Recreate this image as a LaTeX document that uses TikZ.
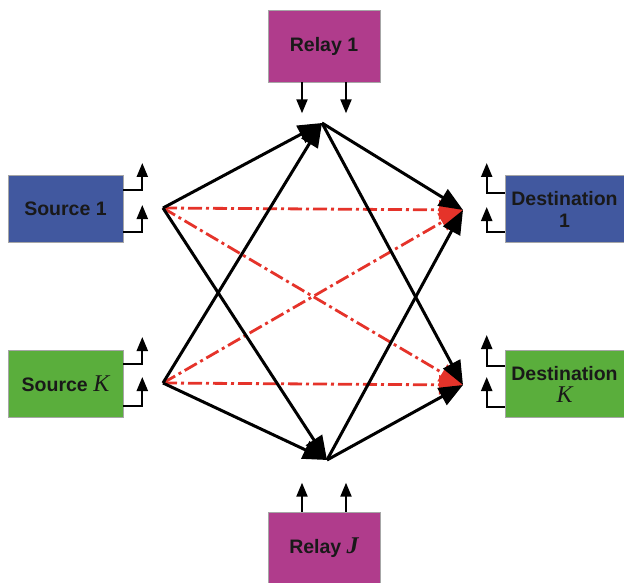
\documentclass[tikz,border=0pt]{standalone}
\usepackage{fontspec}
\setmainfont{Liberation Sans}
\newfontfamily\timesfont{Liberation Serif}
\usepackage{xcolor}
\usepackage{tikz}
\usetikzlibrary{arrows.meta, calc}
\definecolor{srcblue}{HTML}{41589F}
\definecolor{nodegreen}{HTML}{5AAE3C}
\definecolor{relaypink}{HTML}{B03C8C}
\definecolor{crossred}{HTML}{E5332A}
\newcommand{\kvar}{{\timesfont\itshape\mdseries\fontsize{24}{24}\selectfont K}}
\newcommand{\jvar}{{\timesfont\itshape\bfseries\fontsize{24}{24}\selectfont J}}

\begin{document}
\begin{tikzpicture}[
    x=1pt, y=-1pt,
    box/.style={draw=gray!70, line width=0.6pt, align=center,
                font=\bfseries\fontsize{19.5}{22}\selectfont, text=black!90},
    relaybox/.style={box, fill=relaypink, minimum width=112pt, minimum height=72pt},
    endbox/.style={box, minimum width=115pt, minimum height=67pt},
    link/.style={line width=3pt, -{Triangle[length=24pt,width=19pt]}},
    cross/.style={line width=2.8pt, crossred,
                  dash pattern=on 14pt off 4pt on 3pt off 4pt,
                  -{Triangle[length=24pt,width=19pt]}},
    tap/.style={line width=2.2pt, -{Triangle[length=14pt,width=11pt]}}
  ]
    \useasboundingbox (0,0) rectangle (624,583);

    % boxes
    \node[relaybox] (rel1) at (324,46) {Relay 1};
    \node[relaybox] (relJ) at (324,548) {Relay \jvar};
    \node[endbox, fill=srcblue] (src1) at (65.5,208.5) {Source 1};
    \node[endbox, fill=nodegreen] (srcK) at (65.5,384) {Source \kvar};
    \node[endbox, fill=srcblue, minimum width=119pt, inner xsep=2pt] (dst1)
      at (564.5,209) {Destination\\1};
    \node[endbox, fill=nodegreen, minimum width=119pt, inner xsep=2pt] (dstK)
      at (564.5,384) {Destination\\\kvar};

    % hub points
    \coordinate (s1) at (163,208);
    \coordinate (sK) at (163,383);
    \coordinate (d1) at (463,210);
    \coordinate (dK) at (463,385);
    \coordinate (r1) at (322,123);
    \coordinate (rJ) at (327,460);

    % cross links
    \draw[cross] (s1) -- (d1);
    \draw[cross] (s1) -- (dK);
    \draw[cross] (sK) -- (d1);
    \draw[cross] (sK) -- (dK);

    % relay links
    \draw[link] (s1) -- (r1);
    \draw[link] (s1) -- (rJ);
    \draw[link] (sK) -- (r1);
    \draw[link] (sK) -- (rJ);
    \draw[link] (r1) -- (d1);
    \draw[link] (r1) -- (dK);
    \draw[link] (rJ) -- (d1);
    \draw[link] (rJ) -- (dK);

    % small taps
    \draw[tap] ($(src1.east)+(0,-18.5)$) -- ++(19,0) -- ++(0,-27);
    \draw[tap] ($(src1.east)+(0,23.5)$) -- ++(19,0) -- ++(0,-27);
    \draw[tap] ($(srcK.east)+(0,-20)$) -- ++(19,0) -- ++(0,-27);
    \draw[tap] ($(srcK.east)+(0,22)$) -- ++(19,0) -- ++(0,-29);
    \draw[tap] ($(dst1.west)+(0,-16)$) -- ++(-18,0) -- ++(0,-30);
    \draw[tap] ($(dst1.west)+(0,23)$) -- ++(-18,0) -- ++(0,-25);
    \draw[tap] ($(dstK.west)+(0,-18)$) -- ++(-18,0) -- ++(0,-31);
    \draw[tap] ($(dstK.west)+(0,23)$) -- ++(-18,0) -- ++(0,-30);
    \draw[tap] (rel1.south -| 302,0) -- ++(0,31);
    \draw[tap] (rel1.south -| 346,0) -- ++(0,31);
    \draw[tap] (relJ.north -| 302,0) -- ++(0,-29);
    \draw[tap] (relJ.north -| 346,0) -- ++(0,-29);
  \end{tikzpicture}
\end{document}
